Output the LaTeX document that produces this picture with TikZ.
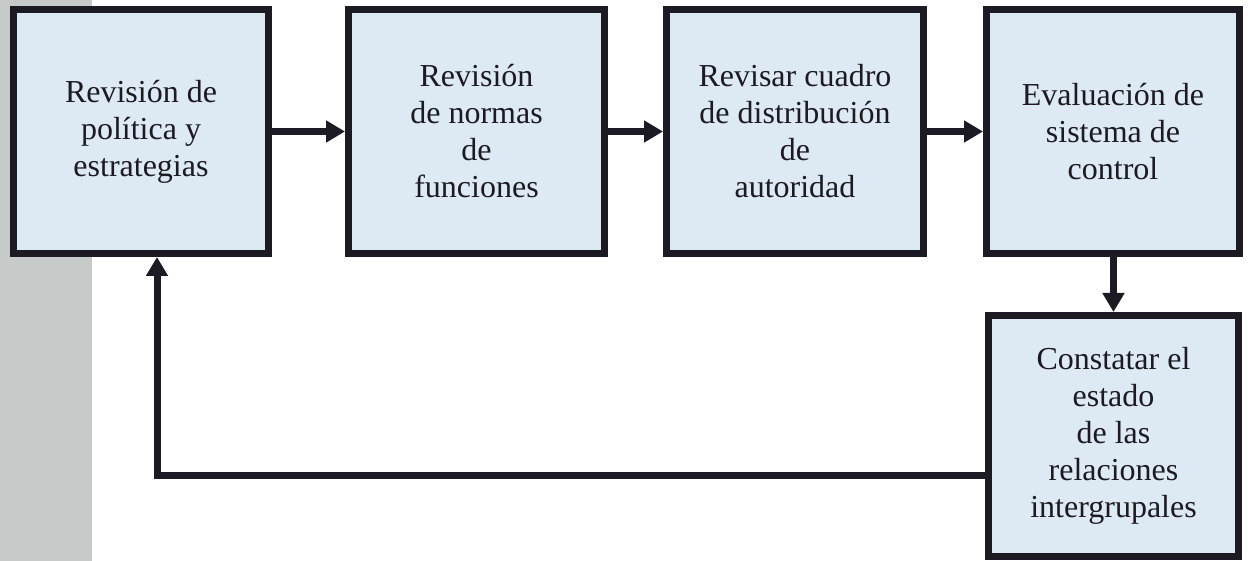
\documentclass[tikz,border=0pt]{standalone}
\usepackage{fontspec}
\setmainfont{Liberation Serif}
\usetikzlibrary{arrows.meta}
\definecolor{boxfill}{RGB}{221,234,243}
\definecolor{strip}{RGB}{198,202,201}
\definecolor{ink}{RGB}{28,26,34}
\tikzset{
  stepbox/.style={draw=ink, fill=boxfill, line width=7pt, align=center, inner sep=0pt,
    font=\fontsize{32}{37}\selectfont, text=ink},
  flow/.style={draw=ink, line width=7pt, -{Triangle[length=19pt,width=21pt]}, miter limit=10}
}
\begin{document}
\begin{tikzpicture}[x=1pt,y=1pt]
\useasboundingbox (0,0) rectangle (1248,-561);
\fill[white] (0,0) rectangle (1248,-561);
\fill[strip] (0,0) rectangle (92,-561);
\node[stepbox, minimum width=255pt, minimum height=244pt] (b1) at (141,-131.5)
  {Revisión de\\política y\\estrategias};
\node[stepbox, minimum width=256pt, minimum height=244pt] (b2) at (476.5,-131.5)
  {Revisión\\de normas\\de\\funciones};
\node[stepbox, minimum width=257pt, minimum height=244pt] (b3) at (795,-131.5)
  {Revisar cuadro\\de distribución\\de\\autoridad};
\node[stepbox, minimum width=253pt, minimum height=244pt] (b4) at (1113,-131.5)
  {Evaluación de\\sistema de\\control};
\node[stepbox, minimum width=250pt, minimum height=241pt] (b5) at (1113.5,-436)
  {Constatar el\\estado\\de las\\relaciones\\intergrupales};
\coordinate (fb) at (157,-475);
\draw[flow] (b1.east) -- (b2.west);
\draw[flow] (b2.east) -- (b3.west);
\draw[flow] (b3.east) -- (b4.west);
\draw[flow] (b4.south -| b5.north) -- (b5.north);
\draw[flow] (b5.west |- fb) -- (fb) -- (b1.south -| fb);
\end{tikzpicture}
\end{document}
